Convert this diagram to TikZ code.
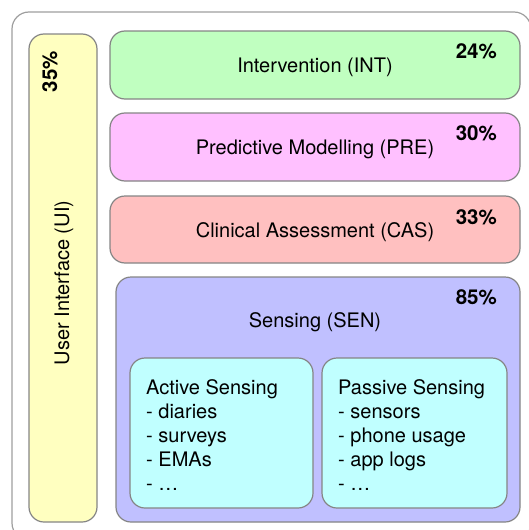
\documentclass[tikz,border=0pt]{standalone}
\usepackage{fontspec}
\setmainfont{TeX Gyre Heros}
\begin{document}
\begin{tikzpicture}[x=1pt,y=-1pt,
  box/.style={draw=black!48, line width=1.2pt, rounded corners=15pt, inner sep=0pt, align=center,
    text height=15pt, text depth=0pt, font=\fontsize{20}{24}\selectfont},
  pct/.style={inner sep=0pt, font=\fontsize{20.5}{24}\selectfont\bfseries, anchor=base east},
  list/.style={inner sep=0pt, align=left, anchor=base west, font=\fontsize{20}{24}\selectfont}]
\useasboundingbox (0,0) rectangle (528,530);
\draw[draw=black!38, line width=1.2pt, rounded corners=17pt] (12,12) rectangle (531,540);
\node[box, fill={rgb,255:red,255;green,255;blue,192}, minimum width=68pt, minimum height=488pt] (ui) at (63,278) {};
\node[box, fill={rgb,255:red,192;green,255;blue,192}, minimum width=410pt, minimum height=68pt] (int) at (315,65) {Intervention (INT)};
\node[box, fill={rgb,255:red,255;green,192;blue,255}, minimum width=410pt, minimum height=68pt] (pre) at (315,147) {Predictive Modelling (PRE)};
\node[box, fill={rgb,255:red,255;green,192;blue,192}, minimum width=410pt, minimum height=67pt] (cas) at (315,229.5) {Clinical Assessment (CAS)};
\node[box, fill={rgb,255:red,192;green,192;blue,255}, minimum width=404pt, minimum height=245pt] (sen) at (318,399.5) {};
\node[box, fill={rgb,255:red,192;green,255;blue,255}, minimum width=183pt, minimum height=150pt] (act) at (221.5,433) {};
\node[box, fill={rgb,255:red,192;green,255;blue,255}, minimum width=185pt, minimum height=150pt] (pas) at (414.5,433) {};
\node[inner sep=0pt, font=\fontsize{20}{24}\selectfont] (sent) at (315,322) {Sensing (SEN)};
\node[inner sep=0pt, rotate=90, font=\fontsize{20}{24}\selectfont] (uit) at (64,283) {User Interface (UI)};
\node[pct, rotate=90] (uip) at (57,51) {35\%};
\node[pct] (intp) at (497,58) {24\%};
\node[pct] (prep) at (497,140) {30\%};
\node[pct] (casp) at (497,224) {33\%};
\node[pct] (senp) at (497,304) {85\%};
\node[list] (actt) at (146,490) {Active Sensing\\- diaries\\- surveys\\- EMAs\\- …};
\node[list] (past) at (338,490) {Passive Sensing\\- sensors\\- phone usage\\- app logs\\- …};
\end{tikzpicture}
\end{document}
